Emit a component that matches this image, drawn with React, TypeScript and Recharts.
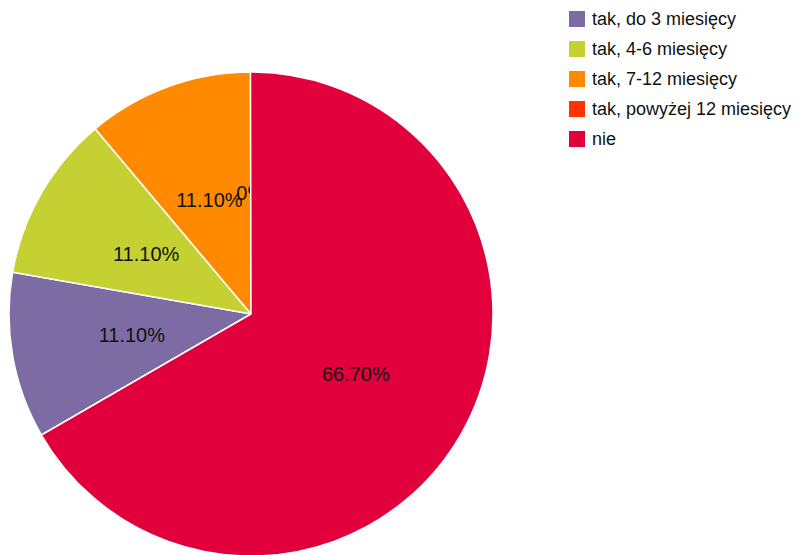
import React from "react";
import { PieChart, Pie, Cell, Legend } from "recharts";

const categories = [
  "tak, do 3 miesięcy",
  "tak, 4-6 miesięcy",
  "tak, 7-12 miesięcy",
  "tak, powyżej 12 miesięcy",
  "nie",
];
const values = [11.1, 11.1, 11.1, 0, 66.7];
const labels = ["11.10%", "11.10%", "11.10%", "0%", "66.70%"];
const colors = ["#7D6CA4", "#C5D133", "#FF8A00", "#FF3300", "#E1003C"];

const data = categories.map((name, i) => ({ name, value: values[i], label: labels[i] }));

const RAD = Math.PI / 180;

const renderLabel = (props: any) => {
  const { cx, cy, midAngle, innerRadius, outerRadius, index } = props;
  const r = innerRadius + (outerRadius - innerRadius) * 0.5;
  const x = cx + r * Math.cos(-midAngle * RAD);
  const y = cy + r * Math.sin(-midAngle * RAD);
  const isZero = values[index] === 0;
  return (
    <g>
      {isZero && (
        <defs>
          <clipPath id="zeroClip">
            <rect x={cx - 100} y={cy - 400} width={99} height={800} />
          </clipPath>
        </defs>
      )}
      <text
        x={x}
        y={y}
        fill="#111"
        textAnchor="middle"
        dominantBaseline="central"
        fontSize={20}
        fontFamily="'Liberation Sans', Arial, sans-serif"
        clipPath={isZero ? "url(#zeroClip)" : undefined}
      >
        {labels[index]}
      </text>
    </g>
  );
};

const renderLegend = () => (
  <div style={{ fontFamily: "'Liberation Sans', Arial, sans-serif", fontSize: 18, color: "#111" }}>
    {categories.map((c, i) => (
      <div key={c} style={{ display: "flex", alignItems: "center", height: 30 }}>
        <div style={{ width: 16, height: 16, background: colors[i], marginRight: 7 }} />
        <span style={{ whiteSpace: "nowrap", lineHeight: "16px" }}>{c}</span>
      </div>
    ))}
  </div>
);

export default function App() {
  return (
    <PieChart width={791} height={547} margin={{ top: 0, right: 0, bottom: 0, left: 0 }}>
      <Pie
        data={data}
        dataKey="value"
        nameKey="name"
        cx={243}
        cy={306}
        outerRadius={242}
        startAngle={210}
        endAngle={-150}
        stroke="#ffffff"
        strokeWidth={1.5}
        labelLine={false}
        label={renderLabel}
        isAnimationActive={false}
      >
        {data.map((d, i) => (
          <Cell key={d.name} fill={colors[i]} />
        ))}
      </Pie>
      <Legend
        content={renderLegend}
        wrapperStyle={{ position: "absolute", top: -4, left: 561, width: 230 }}
      />
    </PieChart>
  );
}
